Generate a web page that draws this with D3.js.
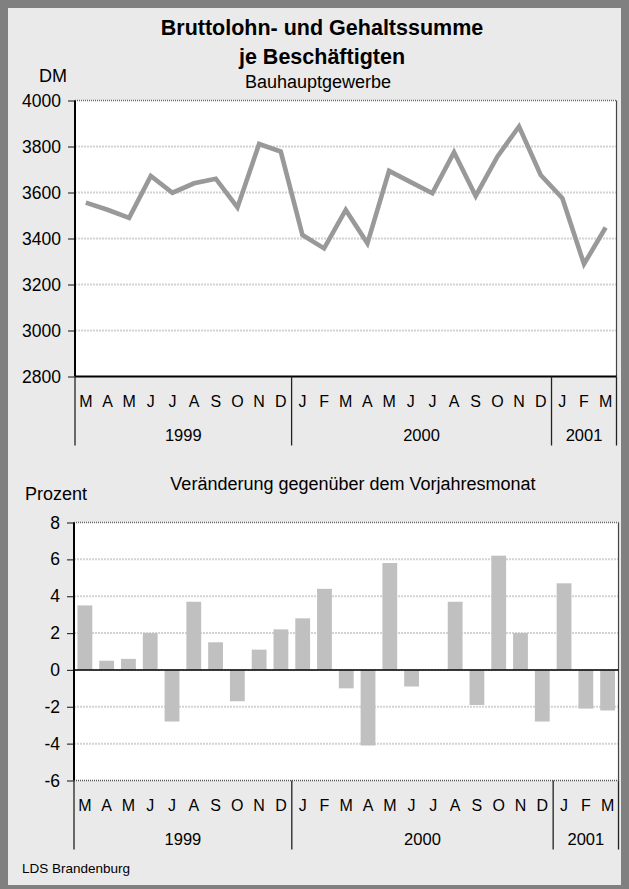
<!DOCTYPE html>
<html>
<head>
<meta charset="utf-8">
<script src="https://cdn.jsdelivr.net/npm/d3@7"></script>
<style>
  body { margin: 0; background: #808080; }
  svg { display: block; font-family: "Liberation Sans", Arial, sans-serif; }
</style>
</head>
<body>
<div id="wrapper"></div>
<script>
// months Mar 1999 .. Mar 2001
const months = ["M","A","M","J","J","A","S","O","N","D","J","F","M","A","M","J","J","A","S","O","N","D","J","F","M"];
const years = ["1999", "2000", "2001"];
const yearMonths = [10, 12, 3];

// DM je Beschaeftigten
const lohn = [3556, 3525, 3490, 3672, 3599, 3640, 3660, 3535, 3811, 3778,
              3415, 3357, 3524, 3379, 3694, 3645, 3597, 3775, 3585, 3756, 3887, 3676,
              3575, 3289, 3448];
const lohnTicks = [2800, 3000, 3200, 3400, 3600, 3800, 4000];

// Veraenderung gegenueber Vorjahresmonat in %
const change = [3.5, 0.5, 0.6, 2.0, -2.8, 3.7, 1.5, -1.7, 1.1, 2.2,
                2.8, 4.4, -1.0, -4.1, 5.8, -0.9, 0, 3.7, -1.9, 6.2, 2.0, -2.8,
                4.7, -2.1, -2.2];
const changeTicks = [-6, -4, -2, 0, 2, 4, 6, 8];

const W = 629, H = 889;
const svg = d3.select("#wrapper").append("svg").attr("width", W).attr("height", H);
svg.append("rect").attr("width", W).attr("height", H).attr("fill", "#808080");
svg.append("rect").attr("x", 8).attr("y", 8).attr("width", 613).attr("height", 877).attr("fill", "#eaeaea");

// title
const title = svg.append("text").attr("text-anchor", "middle").style("font-weight", "bold").style("font-size", "21.5px").attr("fill", "#000");
title.append("tspan").attr("x", 322).attr("y", 34.5).text("Bruttolohn- und Gehaltssumme");
title.append("tspan").attr("x", 322).attr("y", 64).text("je Beschäftigten");

// shared frame: plot area, grid, axes, month/year labels
function frame(box, y, ticks, hasZeroAxis) {
  const x = d3.scaleBand().domain(d3.range(months.length)).range([box.left, box.right]);
  const g = svg.append("g");

  g.append("rect").attr("x", box.left).attr("y", box.top)
    .attr("width", box.right - box.left).attr("height", box.bottom - box.top).attr("fill", "#fff");

  g.selectAll(".grid").data(ticks.filter(t => t !== ticks[0] && t !== ticks[ticks.length - 1])).enter()
    .append("line").attr("class", "grid")
    .attr("x1", box.left).attr("x2", box.right)
    .attr("y1", d => y(d)).attr("y2", d => y(d))
    .attr("stroke", "#d3d3d3").attr("stroke-width", 2).attr("stroke-dasharray", "2,1");

  // top edge
  g.append("line").attr("x1", box.left).attr("x2", box.right)
    .attr("y1", y(ticks[ticks.length - 1])).attr("y2", y(ticks[ticks.length - 1]))
    .attr("stroke", "#666").attr("stroke-width", 1.5).attr("stroke-dasharray", "1,1");
  // right edge
  g.append("line").attr("x1", box.right).attr("x2", box.right)
    .attr("y1", box.top).attr("y2", box.bottom).attr("stroke", "#444").attr("stroke-width", 1.2);
  // bottom edge
  g.append("line").attr("x1", box.left).attr("x2", box.right)
    .attr("y1", box.bottom).attr("y2", box.bottom)
    .attr("stroke", hasZeroAxis ? "#555" : "#000").attr("stroke-width", hasZeroAxis ? 1.5 : 2)
    .attr("stroke-dasharray", hasZeroAxis ? "1,1" : null);

  // y axis
  const yAxis = g.append("g").attr("transform", "translate(" + box.left + ",0)")
    .call(d3.axisLeft(y).tickValues(ticks).tickSize(7).tickPadding(7).tickFormat(d => String(d)));
  yAxis.select(".domain").remove();
  yAxis.selectAll("line").attr("stroke", "#333").attr("stroke-width", 1.2);
  yAxis.selectAll("text").style("font-size", "17.5px").attr("fill", "#000").attr("font-family", null);
  g.append("line").attr("x1", box.left).attr("x2", box.left)
    .attr("y1", box.top).attr("y2", box.bottom).attr("stroke", "#000").attr("stroke-width", 2);

  // month labels
  g.selectAll(".mon").data(months).enter().append("text").attr("class", "mon")
    .attr("x", (d, i) => x(i) + x.bandwidth() / 2).attr("y", box.bottom + 30)
    .attr("text-anchor", "middle").style("font-size", "16px").text(d => d);

  // year separators and labels
  let start = 0;
  const seps = [0];
  years.forEach((yr, k) => {
    const a = x(start), b = start + yearMonths[k] < months.length ? x(start + yearMonths[k]) : box.right;
    g.append("text").attr("x", (a + b) / 2).attr("y", box.bottom + 64)
      .attr("text-anchor", "middle").style("font-size", "16.5px").text(yr);
    start += yearMonths[k];
    seps.push(start);
  });
  g.selectAll(".sep").data(seps).enter().append("line").attr("class", "sep")
    .attr("x1", d => d < months.length ? x(d) : box.right).attr("x2", d => d < months.length ? x(d) : box.right)
    .attr("y1", box.bottom).attr("y2", box.bottom + 69)
    .attr("stroke", "#222").attr("stroke-width", 1.3);

  return { g, x };
}

// ---- upper chart: line ----
const box1 = { left: 75, right: 616.5, top: 100.5, bottom: 376.5 };
const y1 = d3.scaleLinear().domain([2800, 4000]).range([box1.bottom, box1.top]);
const f1 = frame(box1, y1, lohnTicks, false);

svg.append("text").attr("x", 67).attr("y", 82).attr("text-anchor", "end").style("font-size", "18px").text("DM");
svg.append("text").attr("x", 318).attr("y", 87.5).attr("text-anchor", "middle").style("font-size", "18px").text("Bauhauptgewerbe");

const line = d3.line()
  .x((d, i) => f1.x(i) + f1.x.bandwidth() / 2)
  .y(d => y1(d));
f1.g.append("path").datum(lohn).attr("d", line)
  .attr("fill", "none").attr("stroke", "#999").attr("stroke-width", 4.6)
  .attr("stroke-linejoin", "miter");

// ---- lower chart: bars ----
const box2 = { left: 74, right: 618.5, top: 522.5, bottom: 780.5 };
const y2 = d3.scaleLinear().domain([-6, 8]).range([box2.bottom, box2.top]);
const f2 = frame(box2, y2, changeTicks, true);

svg.append("text").attr("x", 25).attr("y", 500).style("font-size", "18px").text("Prozent");
svg.append("text").attr("x", 353).attr("y", 490).attr("text-anchor", "middle").style("font-size", "18px")
  .text("Veränderung gegenüber dem Vorjahresmonat");

const bw = f2.x.bandwidth() * 0.68;
f2.g.selectAll(".bar").data(change).enter().append("rect").attr("class", "bar")
  .attr("x", (d, i) => f2.x(i) + (f2.x.bandwidth() - bw) / 2)
  .attr("y", d => y2(Math.max(0, d)))
  .attr("width", bw)
  .attr("height", d => Math.abs(y2(d) - y2(0)))
  .attr("fill", "#c0c0c0");

f2.g.append("line").attr("x1", box2.left).attr("x2", box2.right)
  .attr("y1", y2(0)).attr("y2", y2(0)).attr("stroke", "#000").attr("stroke-width", 1.5);

svg.append("text").attr("x", 22).attr("y", 873).style("font-size", "13.5px").text("LDS Brandenburg");
</script>
</body>
</html>
